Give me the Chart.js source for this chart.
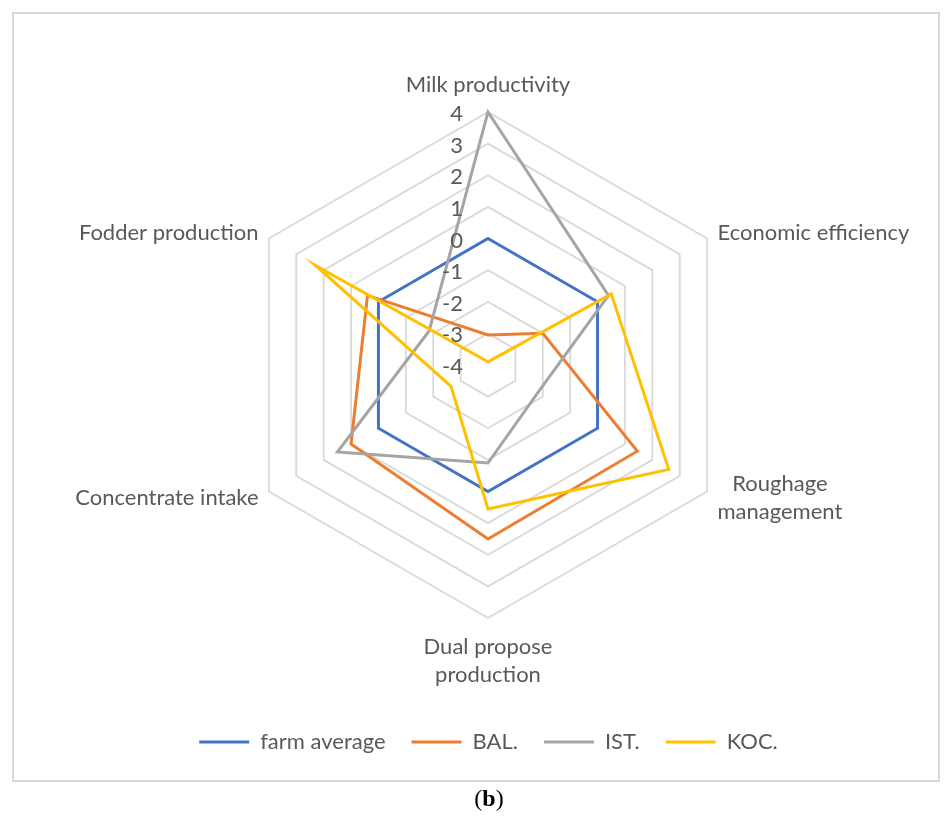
<!DOCTYPE html>
<html>
<head>
<meta charset="utf-8">
<script src="https://cdn.jsdelivr.net/npm/chart.js@4.4.1/dist/chart.umd.min.js"></script>
<style>
  body { margin: 0; background: #fff; }
  #frame { position: absolute; left: 12px; top: 12px; width: 924px; height: 766px; border: 2px solid #d9d9d9; }
  #radarChart { position: absolute; left: 0; top: 0; }
  #caption { position: absolute; left: 0; top: 785px; width: 978px; text-align: center; font-family: 'Liberation Serif', serif; font-size: 24px; color: #000; }
</style>
</head>
<body>
<div id="frame"></div>
<canvas id="radarChart" width="952" height="821"></canvas>
<div id="caption">(<b>b</b>)</div>
<script>
const ctx = document.getElementById('radarChart').getContext('2d');

// Axes (clockwise from top)
const categories = [
  ['Milk productivity'],
  ['Economic efficiency'],
  ['Roughage', 'management'],
  ['Dual propose', 'production'],
  ['Concentrate intake'],
  ['Fodder production']
];
const tickLabels = [-4, -3, -2, -1, 0, 1, 2, 3, 4];

// Series values
const farmAverage = [0, 0, 0, 0, 0, 0];
const bal = [-3.05, -2.0, 1.45, 1.5, 1.0, 0.4];
const ist = [4.0, 0.4, -2.2, -0.9, 1.5, -1.85];
const koc = [-3.9, 0.5, 2.6, 0.55, -2.65, 2.3];

const textColor = '#595959';
const fontFamily = 'Lato, "Open Sans", sans-serif';

// Axis names and value labels drawn from the scale geometry
const radarText = {
  id: 'radarText',
  afterDraw(chart) {
    const scale = chart.scales.r;
    const c = chart.ctx;
    c.save();
    c.fillStyle = textColor;
    c.font = '22px ' + fontFamily;
    c.textBaseline = 'middle';

    // value labels left of the vertical axis
    c.textAlign = 'right';
    tickLabels.forEach(v => {
      const p = scale.getPointPositionForValue(0, v);
      c.fillText(String(v), p.x - 25, p.y + 2);
    });

    const lineH = 28;
    categories.forEach((lines, i) => {
      const p = scale.getPointPosition(i, scale.drawingArea + 12);
      const widths = lines.map(t => c.measureText(t).width);
      const w = Math.max(...widths);
      const h = lines.length * lineH;
      let left, top;
      if (Math.abs(p.x - scale.xCenter) < 1) {
        left = p.x - w / 2;
        top = p.y < scale.yCenter ? p.y - 15 - h / 2 : p.y + 3;
      } else {
        left = p.x > scale.xCenter ? p.x : p.x - w;
        top = p.y - h / 2;
      }
      c.textAlign = 'center';
      lines.forEach((t, k) => {
        c.fillText(t, left + w / 2, top + lineH * k + lineH / 2);
      });
    });
    c.restore();
  }
};

function series(label, data, color, order) {
  return {
    label: label,
    data: data,
    borderColor: color,
    backgroundColor: color,
    borderWidth: 3,
    borderJoinStyle: 'miter',
    fill: false,
    pointRadius: 0,
    pointHoverRadius: 0,
    tension: 0,
    order: order
  };
}

const radarChart = new Chart(ctx, {
  type: 'radar',
  data: {
    labels: categories,
    datasets: [
      series('farm average', farmAverage, '#4472C4', 3),
      series('BAL.', bal, '#ED7D31', 2),
      series('IST.', ist, '#A5A5A5', 1),
      series('KOC.', koc, '#FFC000', 0)
    ]
  },
  options: {
    responsive: false,
    animation: false,
    layout: { padding: { left: 25, right: 0, top: 112, bottom: 58 } },
    scales: {
      r: {
        min: -4,
        max: 4,
        ticks: { stepSize: 1, display: false },
        grid: { color: '#d9d9d9', lineWidth: 1.8, circular: false },
        angleLines: { display: false },
        pointLabels: { display: false }
      }
    },
    plugins: {
      tooltip: { enabled: false },
      legend: {
        position: 'bottom',
        title: { display: true, text: '', font: { size: 10 }, padding: { top: 75, bottom: 0 } },
        labels: {
          usePointStyle: true,
          pointStyle: 'line',
          pointStyleWidth: 50,
          padding: 26,
          color: textColor,
          font: { family: fontFamily, size: 22 },
          sort: (a, b) => a.datasetIndex - b.datasetIndex
        }
      }
    }
  },
  plugins: [radarText]
});
</script>
</body>
</html>
